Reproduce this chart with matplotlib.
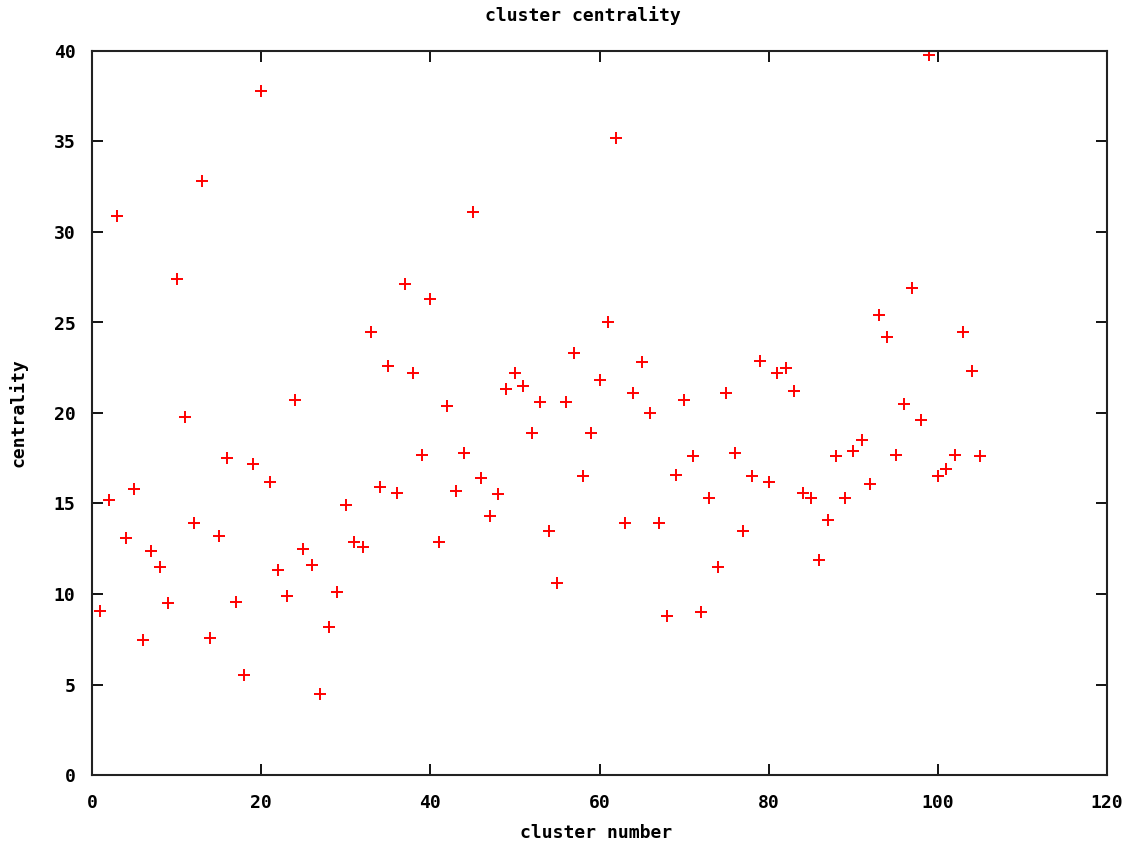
import matplotlib
matplotlib.use("Agg")
import matplotlib.pyplot as plt

cluster_number = list(range(1, 106))
centrality = [
    9.06, 15.2, 30.9, 13.1, 15.8, 7.46, 12.4, 11.5, 9.5, 27.4,
    19.8, 13.9, 32.8, 7.55, 13.2, 17.5, 9.55, 5.55, 17.2, 37.8,
    16.2, 11.3, 9.9, 20.7, 12.5, 11.6, 4.46, 8.15, 10.1, 14.9,
    12.9, 12.6, 24.5, 15.9, 22.6, 15.6, 27.1, 22.2, 17.7, 26.3,
    12.9, 20.4, 15.7, 17.8, 31.1, 16.4, 14.3, 15.5, 21.3, 22.2,
    21.5, 18.9, 20.6, 13.5, 10.6, 20.6, 23.3, 16.5, 18.9, 21.8,
    25.0, 35.2, 13.9, 21.1, 22.8, 20.0, 13.9, 8.8, 16.6, 20.7,
    17.6, 9.0, 15.3, 11.5, 21.1, 17.8, 13.5, 16.5, 22.9, 16.2,
    22.2, 22.5, 21.2, 15.6, 15.3, 11.9, 14.1, 17.6, 15.3, 17.9,
    18.5, 16.1, 25.4, 24.2, 17.7, 20.5, 26.9, 19.6, 39.8, 16.5,
    16.9, 17.7, 24.5, 22.3, 17.6,
]
x_ticks = [0, 20, 40, 60, 80, 100, 120]
y_ticks = [0, 5, 10, 15, 20, 25, 30, 35, 40]

font = dict(family="DejaVu Sans Mono", weight="bold", size=13)

fig = plt.figure(figsize=(11.37, 8.47), dpi=100)
ax = fig.add_axes([92/1137, 1 - 775/847, (1107-92)/1137, (775-51)/847])
ax.plot(cluster_number, centrality, linestyle="none", marker="+",
        color="#ff0000", markersize=9, markeredgewidth=1.4)
ax.set_xlim(0, 120)
ax.set_ylim(0, 40)
ax.set_xticks(x_ticks)
ax.set_yticks(y_ticks)
ax.tick_params(direction="in", length=8, width=1.3, top=True, right=True,
               colors="black")
ax.tick_params(axis="x", pad=14)
ax.tick_params(axis="y", pad=12)
for lab in ax.get_xticklabels() + ax.get_yticklabels():
    lab.set_fontfamily(font["family"])
    lab.set_fontweight(font["weight"])
    lab.set_fontsize(font["size"])
for sp in ax.spines.values():
    sp.set_linewidth(1.5)
    sp.set_color("#222222")

fig.text(583/1137, 1 - 16/847, "cluster centrality", ha="center", va="center", **font)
fig.text(596/1137, 1 - 833/847, "cluster number", ha="center", va="center", **font)
fig.text(18/1137, 1 - 413/847, "centrality", ha="center", va="center", rotation=90, **font)

fig.savefig("out.png", dpi=100)
